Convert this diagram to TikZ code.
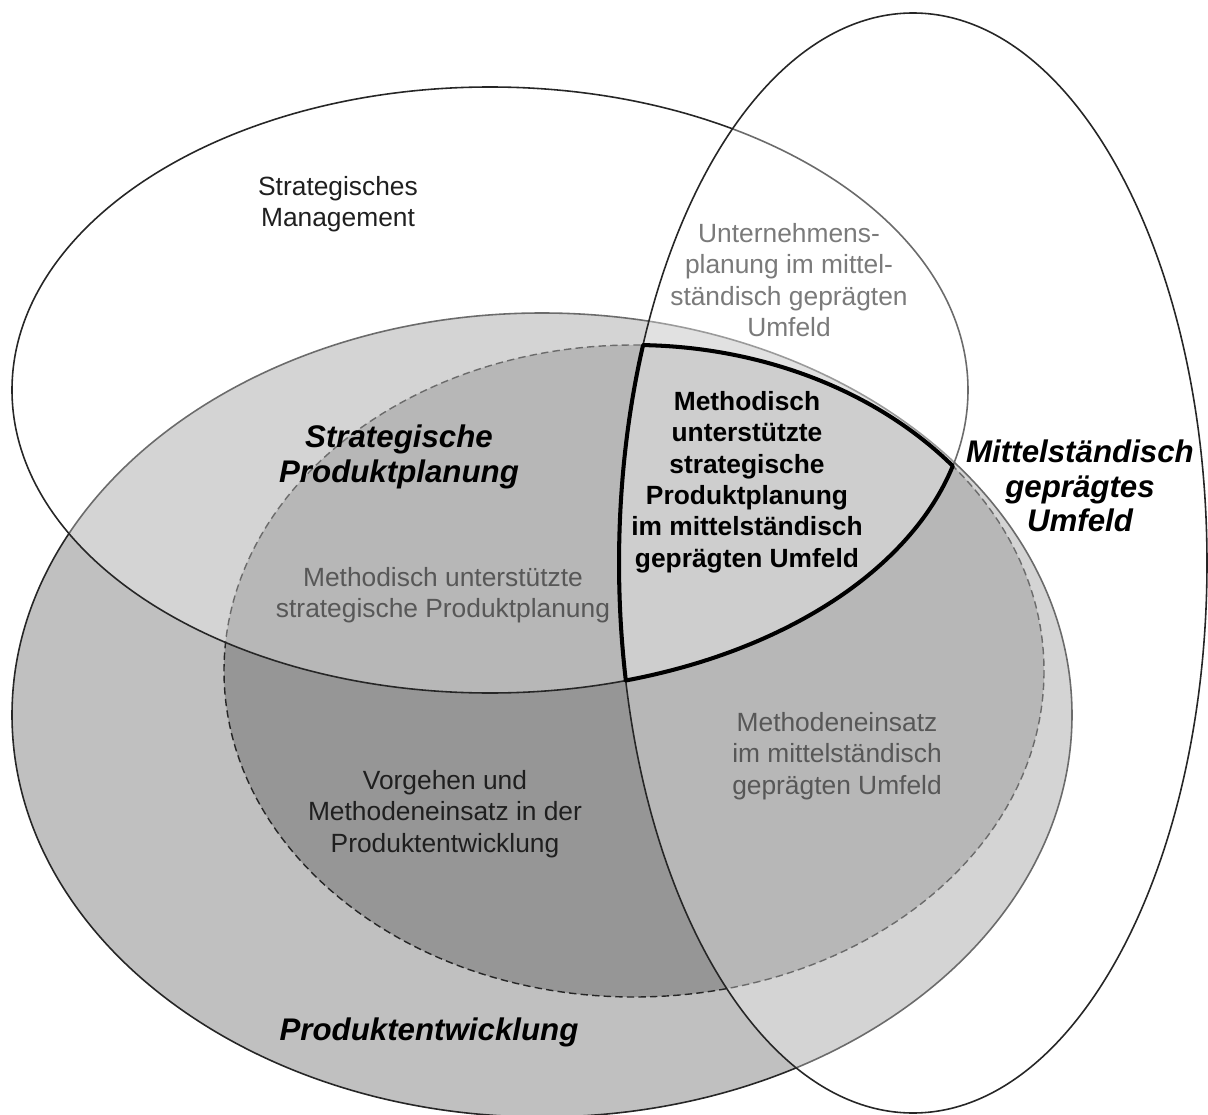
\documentclass[tikz,border=0pt]{standalone}
\usepackage{fontspec}
\setmainfont{Liberation Sans}
\definecolor{pegray}{HTML}{C0C0C0}
\definecolor{spgray}{HTML}{969696}
\definecolor{linegray}{HTML}{262626}
\begin{document}
\begin{tikzpicture}[x=0.02cm, y=-0.02cm,
  outline/.style={draw=linegray, line width=0.9pt},
  veil/.style={fill=white, fill opacity=0.32},
  plain/.style={font=\fontsize{15}{17.8}\selectfont, align=center, text=black!88},
  muted/.style={plain, text=black!66},
  faint/.style={plain, text=black!52},
  strong/.style={font=\fontsize{15}{17.9}\selectfont\bfseries, align=center, text=black},
  title/.style={font=\fontsize{17.8}{19.6}\selectfont\bfseries\itshape, align=center, text=black},
  border/.style={draw=black, line width=2.3pt, line join=round}
]
% page
\fill[white] (0,0) rectangle (1208,1115);
\useasboundingbox (0,0) rectangle (1208,1115);

% Produktentwicklung
\path[fill=pegray, outline] (542,715) ellipse [x radius=530, y radius=402];
% Strategische Produktplanung (dashed border)
\path[fill=spgray, draw=black!85, line width=0.8pt, dash pattern=on 4.2pt off 2.4pt]
  (634,671) ellipse [x radius=410, y radius=326];
% Strategisches Management (translucent white)
\path[veil, outline] (490,390) ellipse [x radius=478, y radius=303];
% Mittelstaendisch gepraegtes Umfeld (translucent white)
\path[veil, outline] (913,563) ellipse [x radius=294, y radius=550];

% common region of the three sets, outlined heavily
\coordinate (corner) at (643.3,345.1);
\draw[border] (corner)
  arc[start angle=-88.7, end angle=-38.97, x radius=410, y radius=326]
  arc[start angle=14.53, end angle=73.5, x radius=478, y radius=303]
  arc[start angle=167.66, end angle=203.33, x radius=294, y radius=550] -- cycle;

% labels
\node[plain] (sm) at (338,204) {Strategisches\\Management};
\node[faint] (up) at (789,280) {Unternehmens-\\planung im mittel-\\ständisch geprägten\\Umfeld};
\node[title] (sp) at (399,457) {Strategische\\Produktplanung};
\node[strong] (core) at (747,482) {Methodisch\\unterstützte\\strategische\\Produktplanung\\im mittelständisch\\geprägten Umfeld};
\node[title] (mu) at (1080,486) {Mittelständisch\\geprägtes\\Umfeld};
\node[muted] (msp) at (443,595) {Methodisch unterstützte\\strategische Produktplanung};
\node[muted] (me) at (837,756) {Methodeneinsatz\\im mittelständisch\\geprägten Umfeld};
\node[plain] (vm) at (445,814) {Vorgehen und\\Methodeneinsatz in der\\Produktentwicklung};
\node[title] (pe) at (429,1032) {Produktentwicklung};
\end{tikzpicture}
\end{document}
